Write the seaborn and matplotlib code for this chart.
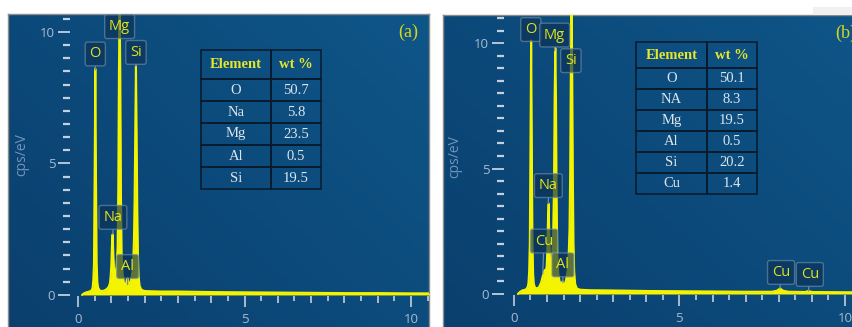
import numpy as np
import pandas as pd
import matplotlib
matplotlib.use("Agg")
import matplotlib.pyplot as plt
import seaborn as sns
from matplotlib.colors import LinearSegmentedColormap
from matplotlib.ticker import FixedLocator, MultipleLocator, NullFormatter
from matplotlib.patches import Rectangle

# ---------------- data ----------------
energy_a = [0.12, 0.18, 0.25, 0.32, 0.38, 0.42, 0.44, 0.46, 0.48, 0.50, 0.52, 0.54, 0.56, 0.58,
            0.60, 0.64, 0.70, 0.78, 0.86, 0.92, 0.96, 0.98, 1.00, 1.02, 1.04, 1.06, 1.08, 1.10,
            1.13, 1.16, 1.19, 1.21, 1.23, 1.25, 1.27, 1.29, 1.31, 1.34, 1.38, 1.42, 1.45, 1.47,
            1.49, 1.51, 1.53, 1.56, 1.60, 1.64, 1.66, 1.68, 1.70, 1.72, 1.74, 1.76, 1.78, 1.80,
            1.82, 1.85, 1.90, 2.00, 2.20, 2.50, 3.00, 3.50, 4.00, 5.00, 6.00, 7.00, 8.00, 9.00,
            10.00, 10.60]
cps_a = [0.00, 0.06, 0.10, 0.12, 0.15, 0.20, 0.28, 0.55, 1.2, 4.5, 8.6, 4.5, 1.2, 0.5,
         0.30, 0.18, 0.15, 0.16, 0.22, 0.30, 0.45, 0.70, 1.1, 1.9, 2.3, 1.6, 1.0, 0.8,
         0.8, 1.1, 1.8, 4.0, 8.5, 11.0, 8.5, 3.8, 1.6, 0.8, 0.45, 0.35, 0.45, 0.6,
         0.65, 0.45, 0.35, 0.45, 0.6, 0.9, 1.3, 2.1, 3.6, 6.2, 8.7, 6.2, 3.3, 1.5,
         0.7, 0.35, 0.20, 0.15, 0.14, 0.13, 0.13, 0.12, 0.11, 0.10, 0.09, 0.08, 0.07, 0.07,
         0.06, 0.06]

energy_b = [0.12, 0.18, 0.25, 0.32, 0.38, 0.42, 0.44, 0.46, 0.48, 0.50, 0.52, 0.54, 0.56, 0.58,
            0.60, 0.64, 0.70, 0.76, 0.82, 0.86, 0.90, 0.93, 0.96, 0.99, 1.01, 1.03, 1.05, 1.07,
            1.09, 1.12, 1.15, 1.18, 1.21, 1.23, 1.25, 1.27, 1.29, 1.31, 1.34, 1.38, 1.42, 1.45,
            1.47, 1.49, 1.51, 1.54, 1.58, 1.62, 1.65, 1.68, 1.70, 1.72, 1.74, 1.76, 1.78, 1.80,
            1.82, 1.85, 1.90, 2.00, 2.30, 3.00, 3.50, 4.00, 5.00, 6.00, 7.00, 7.80, 7.95, 8.04,
            8.13, 8.30, 8.80, 8.90, 9.00, 10.00, 11.10]
cps_b = [0.00, 0.08, 0.14, 0.16, 0.20, 0.30, 0.45, 0.9, 2.0, 6.0, 10.1, 6.0, 2.0, 0.8,
         0.40, 0.25, 0.22, 0.28, 0.45, 0.65, 0.85, 0.95, 0.90, 1.1, 1.8, 3.0, 3.6, 2.2,
         1.3, 1.2, 1.4, 2.0, 4.2, 7.8, 9.8, 7.8, 3.8, 1.6, 0.8, 0.5, 0.35, 0.45,
         0.50, 0.45, 0.30, 0.35, 0.6, 0.9, 1.4, 2.6, 5.0, 9.0, 12.0, 9.0, 4.6, 2.0,
         0.9, 0.4, 0.22, 0.17, 0.15, 0.14, 0.13, 0.12, 0.11, 0.10, 0.09, 0.09, 0.13, 0.22,
         0.13, 0.09, 0.08, 0.12, 0.08, 0.07, 0.07]

table_cols = ["Element", "wt %"]
elements_a = ["O", "Na", "Mg", "Al", "Si"]
wt_a = ["50.7", "5.8", "23.5", "0.5", "19.5"]
elements_b = ["O", "NA", "Mg", "Al", "Si", "Cu"]
wt_b = ["50.1", "8.3", "19.5", "0.5", "20.2", "1.4"]

peak_names_a = ["O", "Mg", "Si", "Na", "Al"]
peak_names_b = ["O", "Mg", "Si", "Na", "Cu", "Al", "Cu", "Cu"]

x_major = [0, 5, 10]
y_major = [0, 5, 10]
panel_tags = ["(a)", "(b)"]

# ---------------- layout / style ----------------
# label boxes: (x centre, y centre, pointer tip x, pointer tip y) in data units
label_layout_a = [(0.52, 9.16, 0.52, 8.55), (1.25, 10.2, None, None), (1.74, 9.22, 1.74, 8.7),
                  (1.05, 2.95, 1.05, 2.3), (1.49, 1.08, 1.49, 0.4)]
label_layout_b = [(0.51, 10.54, None, None), (1.23, 10.32, 1.23, 9.7), (1.72, 9.3, None, None),
                  (1.04, 4.32, 1.04, 3.6), (0.91, 2.11, 0.87, 0.8), (1.48, 1.16, 1.48, 0.45),
                  (8.07, 0.86, 8.04, 0.22), (8.94, 0.78, 8.90, 0.12)]

W, H = 853, 327
YELLOW = "#f4f400"
LABEL_YELLOW = "#e2e21c"
TICK_COLOR = "#c3cfdc"
TICKLABEL_COLOR = "#a9bbcf"
YLABEL_COLOR = "#7195ba"
BOX_EDGE = "#6f8ba6"

sns.set_theme(style="white")
plt.rcParams["font.family"] = ["Open Sans", "DejaVu Sans"]


def fr(x0, y0, x1, y1):
    return [x0 / W, 1 - y1 / H, (x1 - x0) / W, (y1 - y0) / H]


fig = plt.figure(figsize=(W / 100, H / 100), dpi=100)
fig.patch.set_facecolor("white")

cmap = LinearSegmentedColormap.from_list("eds", ["#0a3f6d", "#0c4a7b", "#0f5688"])
gx, gy = np.meshgrid(np.linspace(0, 1, 200), np.linspace(0, 1, 200))
grad = 0.55 * gx + 0.45 * (1 - gy)


def background(box):
    bg = fig.add_axes(fr(*box), zorder=0)
    bg.imshow(grad, cmap=cmap, aspect="auto", extent=[0, 1, 0, 1], origin="upper")
    bg.set_xticks([]); bg.set_yticks([])
    for s in bg.spines.values():
        s.set_color("#8c8c8c"); s.set_linewidth(1.0)
    return bg


def panel(box, data_box, xlim, ylim, energy, cps, names, layout, tag, tag_px, ylab_px):
    background(box)
    ax = fig.add_axes(fr(*data_box), zorder=2)
    ax.set_facecolor("none")
    df = pd.DataFrame({"energy": energy, "cps": cps})
    ax.fill_between(df["energy"], 0, df["cps"], color=YELLOW, lw=0, zorder=2)
    sns.lineplot(data=df, x="energy", y="cps", ax=ax, color=YELLOW, lw=1.5, zorder=3)
    ax.set_xlim(*xlim); ax.set_ylim(*ylim)
    for s in ax.spines.values():
        s.set_visible(False)
    ax.set_xlabel(""); ax.set_ylabel("")
    ax.grid(False)
    ax.xaxis.set_major_locator(FixedLocator(x_major))
    ax.xaxis.set_minor_locator(FixedLocator(np.arange(1, 11, 1)))
    ax.yaxis.set_major_locator(FixedLocator(y_major))
    ax.yaxis.set_minor_locator(MultipleLocator(0.5))
    ax.tick_params(axis="x", which="major", direction="out", length=8, width=1.2,
                   color=TICK_COLOR, labelcolor=TICKLABEL_COLOR, labelsize=9.5, pad=4.5,
                   bottom=True)
    ax.tick_params(axis="x", which="minor", direction="out", length=5, width=1.2,
                   color=TICK_COLOR, bottom=True)
    ax.tick_params(axis="y", which="major", direction="out", length=8.6, width=1.3,
                   color=TICK_COLOR, labelcolor=TICKLABEL_COLOR, labelsize=9.5, pad=2,
                   left=True)
    ax.tick_params(axis="y", which="minor", direction="out", length=5, width=1.6,
                   color=TICK_COLOR, left=True)
    ax.set_xticklabels([str(v) for v in x_major])
    ax.set_yticklabels([str(v) for v in y_major])
    sec = ax.secondary_xaxis("bottom")
    sec.set_xticks(np.arange(0.5, 11, 1.0))
    sec.xaxis.set_major_formatter(NullFormatter())
    sec.tick_params(axis="x", direction="out", length=3.6, width=1.2, color=TICK_COLOR)
    for s in sec.spines.values():
        s.set_visible(False)

    for name, (xc, yc, tx, ty) in zip(names, layout):
        bbox = dict(boxstyle="round,pad=0.3,rounding_size=0.15", fc="#0b3155", ec=BOX_EDGE,
                    lw=1.0, alpha=0.65)
        if tx is None:
            ax.text(xc, yc, name, ha="center", va="center", color=LABEL_YELLOW, fontsize=10.5,
                    bbox=bbox, zorder=5)
        else:
            ax.annotate(name, xy=(tx, ty), xytext=(xc, yc), ha="center", va="center",
                        color=LABEL_YELLOW, fontsize=10.5, bbox=bbox, zorder=5,
                        arrowprops=dict(arrowstyle="-", color=BOX_EDGE, lw=0.9,
                                        shrinkA=0, shrinkB=0))

    fig.text(tag_px[0] / W, 1 - tag_px[1] / H, tag, ha="left", va="center",
             color="#d6d61e", fontsize=13, family=["Liberation Serif", "DejaVu Serif"])
    fig.text(ylab_px[0] / W, 1 - ylab_px[1] / H, "cps/eV", rotation=90, ha="center",
             va="center", color=YLABEL_COLOR, fontsize=10)
    return ax


def draw_table(rect, elements, wts, header_h, body_h):
    tax = fig.add_axes(fr(*rect), zorder=4)
    tax.axis("off")
    tax.patch.set_alpha(0)
    cell_text = [[e, w] for e, w in zip(elements, wts)]
    tbl = tax.table(cellText=cell_text, colLabels=table_cols, cellLoc="center",
                    colWidths=[71 / 121, 50 / 121], bbox=[0, 0, 1, 1])
    tbl.auto_set_font_size(False)
    for (r, c), cell in tbl.get_celld().items():
        cell.set_facecolor("none")
        cell.set_edgecolor("#081a2c")
        cell.set_linewidth(1.1)
        t = cell.get_text()
        t.set_fontfamily(["Liberation Serif", "DejaVu Serif"])
        t.set_fontsize(10.5)
        if r == 0:
            cell.set_height(header_h)
            t.set_color("#e6e62a")
            t.set_fontweight("bold")
        else:
            cell.set_height(body_h)
            t.set_color("#dde4ec")


panel((8, 14, 429, 345), (70, 14, 429, 296), (-0.24, 10.54), (-0.04, 10.68),
      energy_a, cps_a, peak_names_a, label_layout_a, panel_tags[0], (398, 32), (22, 155))
panel((443, 15, 880, 345), (504, 15, 880, 295), (-0.30, 11.06), (-0.04, 11.12),
      energy_b, cps_b, peak_names_b, label_layout_b, panel_tags[1], (835, 33), (455, 157))

draw_table((200.7, 50, 320.7, 189), elements_a, wt_a, 29, 22)
draw_table((636, 42.3, 757, 194), elements_b, wt_b, 25.4, 21)

fig.patches.append(Rectangle((813 / W, 1 - 15 / H), 40 / W, 8 / H, transform=fig.transFigure,
                             facecolor="#f0f0f0", edgecolor="none", zorder=1))

fig.savefig("out.png", dpi=100, facecolor="white")
